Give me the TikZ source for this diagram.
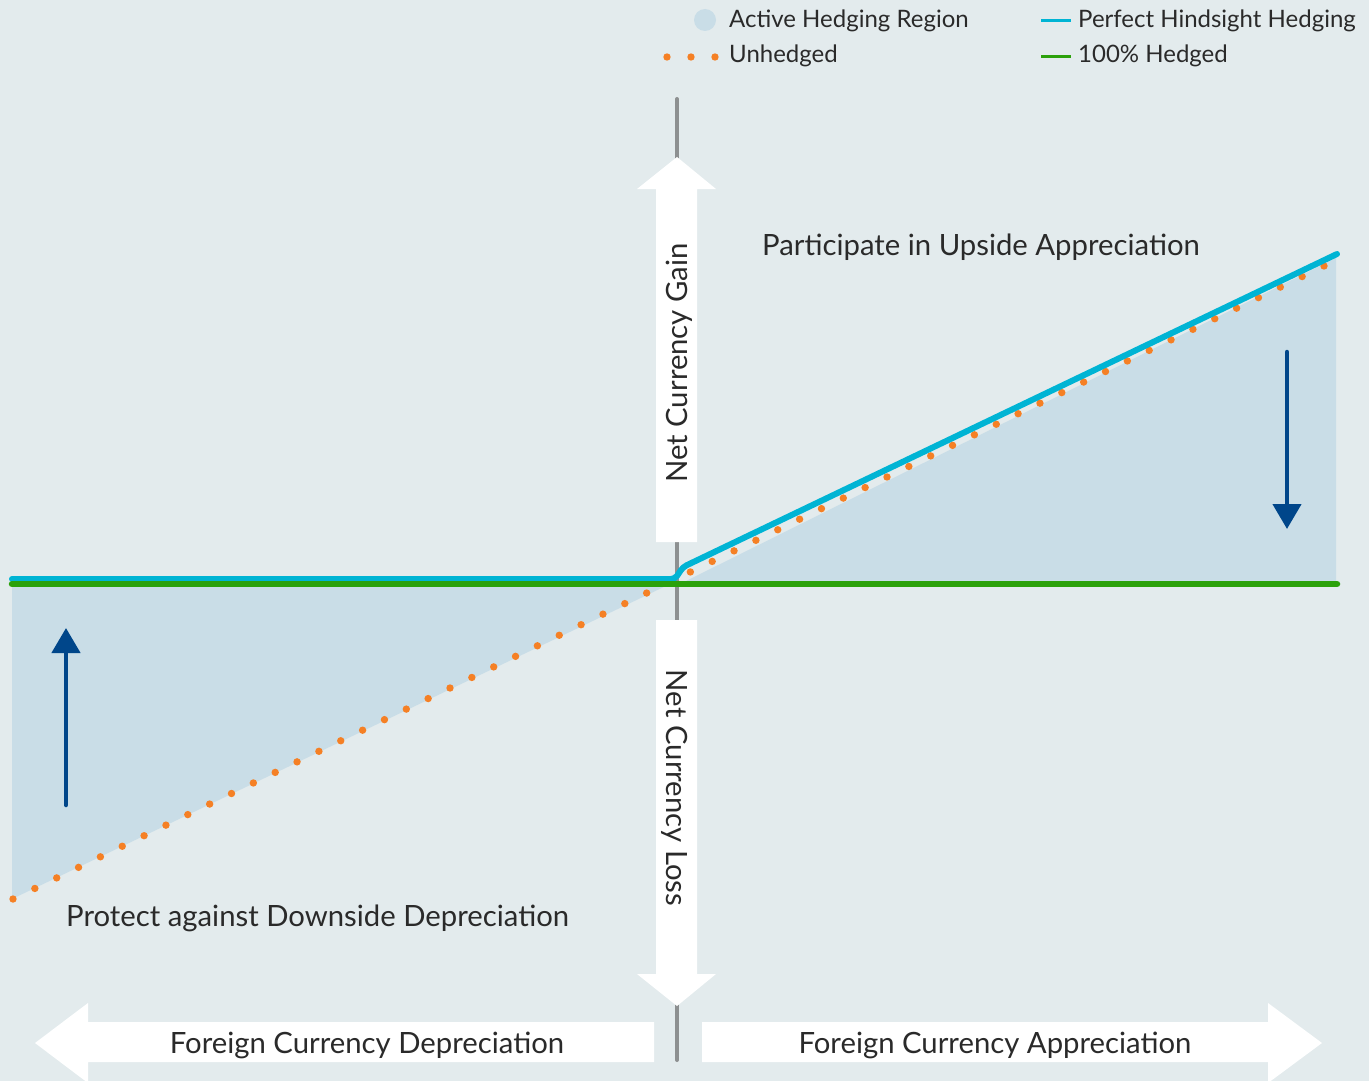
\documentclass[tikz,border=0pt]{standalone}
\usepackage{fontspec}
\setmainfont{Lato}
\usetikzlibrary{arrows.meta}
\definecolor{bgc}{HTML}{E3EBED}
\definecolor{regionc}{HTML}{C9DDE7}
\definecolor{cyanc}{HTML}{00B4D4}
\definecolor{greenc}{HTML}{2BA10B}
\definecolor{dotc}{HTML}{F58025}
\definecolor{navyc}{HTML}{00468A}
\definecolor{axisc}{HTML}{8D9091}
\definecolor{textc}{HTML}{2A2A2A}
\tikzset{
  lbl/.style={inner sep=0pt, text=textc, font=\fontsize{29.3}{34}\selectfont},
  leglbl/.style={inner sep=0pt, anchor=base west, text=textc, font=\fontsize{24}{28}\selectfont},
  whitearrow/.style={fill=white},
  navyarrow/.style={draw=navyc, line width=4.5pt, line cap=round, -{Triangle[width=28pt,length=25pt]}},
  unhedgeddot/.style={fill=dotc},
  cyanline/.style={draw=cyanc, line width=6pt, line cap=round},
  greenline/.style={draw=greenc, line width=6.5pt, line cap=round},
  axisline/.style={draw=axisc, line width=4pt, line cap=round},
}
\begin{document}
\begin{tikzpicture}[x=1pt,y=-1pt]
\fill[bgc] (0,0) rectangle (1369,1081);
\useasboundingbox (0,0) rectangle (1369,1081);
% shaded region
\fill[regionc] (12,584) -- (670,584) -- (12,899) -- cycle;
\fill[regionc] (680,584) -- (1336,258) -- (1336,584) -- cycle;
% axis
\draw[axisline] (677,99) -- (677,1060);
% white arrows
\fill[whitearrow] (677,157) -- (716,189) -- (697,189) -- (697,542) -- (656,542) -- (656,189) -- (637,189) -- cycle;
\fill[whitearrow] (677,1006) -- (716,974) -- (697,974) -- (697,620) -- (656,620) -- (656,974) -- (637,974) -- cycle;
\fill[whitearrow] (35,1043) -- (88,1003) -- (88,1022) -- (654,1022) -- (654,1062) -- (88,1062) -- (88,1083) -- cycle;
\fill[whitearrow] (1322,1043) -- (1268,1003) -- (1268,1022) -- (702,1022) -- (702,1062) -- (1268,1062) -- (1268,1083) -- cycle;
% unhedged dots
\foreach \i in {0,...,60}
  \fill[unhedgeddot] ({13+\i*21.85},{899-\i*10.55}) circle (3.7);
% perfect hindsight
\draw[cyanline, rounded corners=4pt] (12,579) -- (675,579) -- (683,567) -- (1337,254);
% 100% hedged
\draw[greenline] (12,584) -- (1337,584);
% navy arrows
\coordinate (la1) at (66,805); \coordinate (la2) at (66,628);
\coordinate (ra1) at (1287,352); \coordinate (ra2) at (1287,529);
\draw[navyarrow] (la1) -- (la2);
\draw[navyarrow] (ra1) -- (ra2);
% labels
\node[lbl, anchor=west] (up) at (762,247) {Participate in Upside Appreciation};
\node[lbl, anchor=west] (down) at (66,918) {Protect against Downside Depreciation};
\node[lbl, rotate=90] (gain) at (679,363) {Net Currency Gain};
\node[lbl, rotate=-90] (loss) at (675,788) {Net Currency Loss};
\node[lbl] (dep) at (367,1045) {Foreign Currency Depreciation};
\node[lbl] (app) at (995,1045) {Foreign Currency Appreciation};
% legend
\fill[regionc] (705,20) circle (11);
\node[leglbl] (l1) at (729,28) {Active Hedging Region};
\foreach \x in {667,691,715} \fill[unhedgeddot] (\x,57) circle (3.7);
\node[leglbl] (l2) at (729,63) {Unhedged};
\draw[draw=cyanc, line width=3pt] (1041,21) -- (1071,21);
\node[leglbl] (l3) at (1078,28) {Perfect Hindsight Hedging};
\draw[draw=greenc, line width=3pt] (1041,57) -- (1071,57);
\node[leglbl] (l4) at (1078,63) {100\% Hedged};
\end{tikzpicture}
\end{document}
